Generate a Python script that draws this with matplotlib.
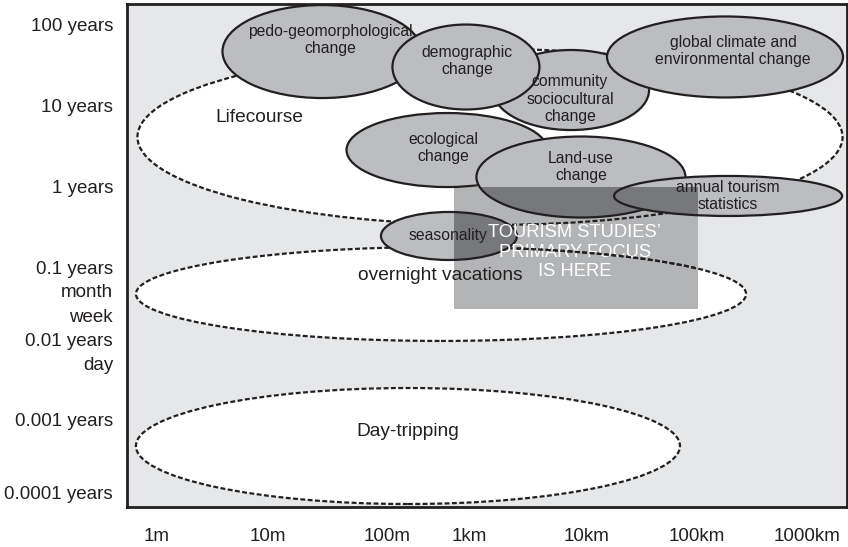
import matplotlib
matplotlib.use("Agg")
import matplotlib.pyplot as plt
from matplotlib.patches import Ellipse, Rectangle

plt.rcParams["font.family"] = ["Liberation Sans", "DejaVu Sans"]

# axes are in "decades": x ~ log10(metres), y ~ log10(years), as drawn
x_ticks = [0.018, 1.039, 2.132, 2.886, 3.971, 4.982, 5.993]
x_labels = ["1m", "10m", "100m", "1km", "10km", "100km", "1000km"]
y_ticks = [2.0, 1.0, 0.0, -1.01, -1.296, -1.593, -1.889, -2.19, -2.88, -3.79]
y_labels = ["100 years", "10 years", "1 years", "0.1 years", "month", "week",
            "0.01 years", "day", "0.001 years", "0.0001 years"]

# solid (grey) scales of change: centre, width, height in decades
scale_names = ["pedo-geomorphological\nchange", "community\nsociocultural\nchange",
               "demographic\nchange", "global climate and\nenvironmental change",
               "ecological\nchange", "Land-use\nchange", "annual tourism\nstatistics",
               "seasonality"]
scale_cx = [1.535, 3.824, 2.858, 5.239, 2.684, 3.915, 5.267, 2.702]
scale_cy = [1.660, 1.185, 1.469, 1.593, 0.444, 0.111, -0.123, -0.617]
scale_w = [1.829, 1.434, 1.351, 2.169, 1.847, 1.921, 2.096, 1.250]
scale_h = [1.148, 0.988, 1.049, 1.000, 0.914, 1.000, 0.494, 0.593]
scale_tx = [1.608, 3.814, 2.868, 5.313, 2.647, 3.915, 5.267, 2.693]
scale_ty = [1.802, 1.074, 1.543, 1.667, 0.469, 0.235, -0.123, -0.605]

# dashed (white) tourism behaviours
trip_names = ["Lifecourse", "overnight vacations", "Day-tripping"]
trip_cx = [3.079, 2.629, 2.325]
trip_cy = [0.605, -1.333, -3.210]
trip_w = [6.48, 5.607, 5.0]
trip_h = [2.173, 1.160, 1.432]
trip_tx = [0.956, 2.619, 2.325]
trip_ty = [0.840, -1.099, -3.037]

# tourism studies' focus box
focus_x = [2.748, 4.991]
focus_y = [-1.519, -0.012]

INK = "#231f20"
DASH = (0, (2.2, 1.1))
fig = plt.figure(figsize=(8.48, 5.47), dpi=100)
ax = fig.add_axes([127 / 848, 1 - 507 / 547, 720 / 848, 503 / 547])
ax.set_facecolor("#e6e7e8")
ax.set_xlim(-0.257, 6.36)
ax.set_ylim(-3.963, 2.247)

for cx, cy, w, h in zip(trip_cx, trip_cy, trip_w, trip_h):
    ax.add_patch(Ellipse((cx, cy), w, h, facecolor="white", edgecolor="none", zorder=1))
    ax.add_patch(Ellipse((cx, cy), w, h, facecolor="none", edgecolor=INK, lw=1.6,
                         ls=DASH, zorder=2.5))

rect = Rectangle((focus_x[0], focus_y[0]), focus_x[1] - focus_x[0],
                 focus_y[1] - focus_y[0], facecolor="#b3b4b6", edgecolor="none", zorder=2)
ax.add_patch(rect)

for i, (cx, cy, w, h) in enumerate(zip(scale_cx, scale_cy, scale_w, scale_h)):
    z = 3 + i * 0.1
    ax.add_patch(Ellipse((cx, cy), w, h, facecolor="#bcbdc0", edgecolor="none", zorder=z))
    dark = Ellipse((cx, cy), w, h, facecolor="#77787b", edgecolor="none", zorder=z + 0.01)
    ax.add_patch(dark)
    dark.set_clip_path(rect)
    ax.add_patch(Ellipse((cx, cy), w, h, facecolor="none", edgecolor=INK, lw=1.6,
                         zorder=z + 0.02))

for name, tx, ty in zip(scale_names, scale_tx, scale_ty):
    ax.text(tx, ty, name, ha="center", va="center", fontsize=11.3, color=INK,
            linespacing=1.22, zorder=10)
for name, tx, ty in zip(trip_names, trip_tx, trip_ty):
    ax.text(tx, ty, name, ha="center", va="center", fontsize=13.8, color=INK, zorder=10)

ax.text(sum(focus_x) / 2 - 0.01, sum(focus_y) / 2 - 0.05,
        "TOURISM STUDIES’\nPRIMARY FOCUS\nIS HERE", ha="center", va="center",
        fontsize=13.2, color="white", linespacing=1.22, zorder=9)

# in the original the overnight outline runs over the white label
seas_right = scale_cx[7] + scale_w[7] / 2
clip = Rectangle((seas_right, focus_y[0]), focus_x[1] - seas_right,
                 focus_y[1] - focus_y[0], transform=ax.transData)
over = Ellipse((trip_cx[1], trip_cy[1]), trip_w[1], trip_h[1], facecolor="none",
               edgecolor=INK, lw=1.6, ls=DASH, zorder=9.5)
ax.add_patch(over)
over.set_clip_path(clip)

ax.set_xticks(x_ticks)
ax.set_xticklabels(x_labels)
ax.set_yticks(y_ticks)
ax.set_yticklabels(y_labels)
ax.tick_params(length=0, labelsize=13.5, labelcolor=INK)
ax.tick_params(axis="x", pad=15)
ax.tick_params(axis="y", pad=10)
for s in ax.spines.values():
    s.set_color(INK)
    s.set_linewidth(2)
    s.set_zorder(20)

fig.savefig("out.png", dpi=100)
